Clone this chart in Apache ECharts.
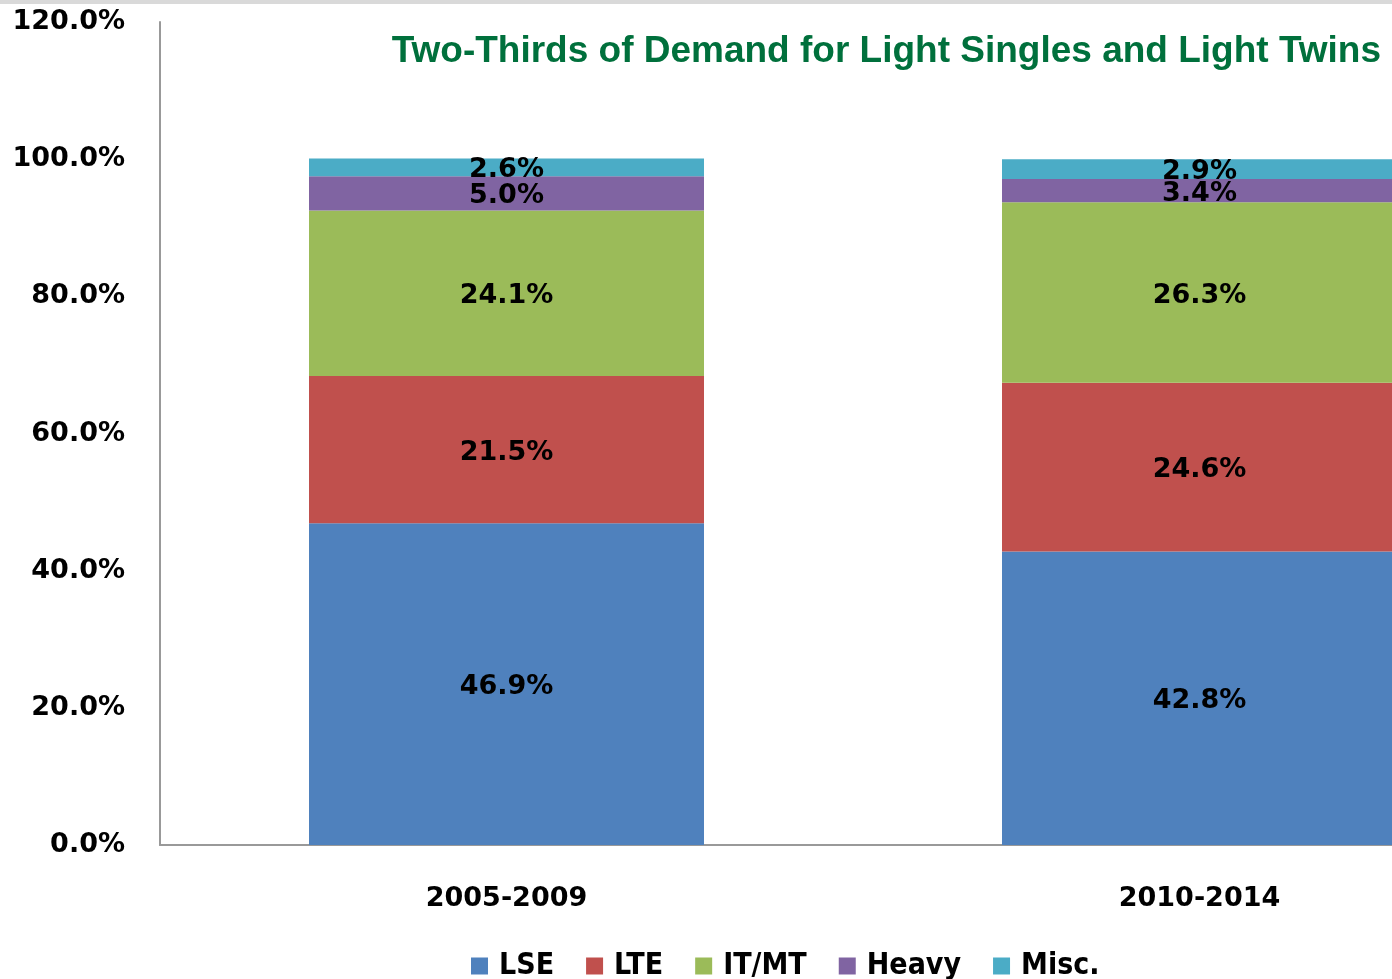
<!DOCTYPE html>
<html>
<head>
<meta charset="utf-8">
<script src="https://cdn.jsdelivr.net/npm/echarts@6/dist/echarts.min.js"></script>
<style>
  html, body { margin: 0; padding: 0; background: #fff; }
  #chart { width: 1392px; height: 979px; }
</style>
</head>
<body>
<div id="chart"></div>
<script>
const categories = ["2005-2009", "2010-2014"];
const seriesNames = ["LSE", "LTE", "IT/MT", "Heavy", "Misc."];
const lse = [46.9, 42.8];
const lte = [21.5, 24.6];
const itmt = [24.1, 26.3];
const heavy = [5.0, 3.4];
const misc = [2.6, 2.9];
const yTicks = [0, 20, 40, 60, 80, 100, 120];

const colors = ["#4F81BD", "#C0504D", "#9BBB59", "#8064A2", "#4BACC6"];
const values = [lse, lte, itmt, heavy, misc];

const chart = echarts.init(document.getElementById("chart"));

const series = seriesNames.map((name, i) => ({
  name,
  type: "bar",
  stack: "total",
  barWidth: 395,
  itemStyle: { color: colors[i] },
  label: {
    show: true,
    position: "inside",
    offset: [0, 3],
    formatter: (p) => p.value.toFixed(1) + "%",
    color: "#000",
    fontFamily: "DejaVu Sans",
    fontWeight: "bold",
    fontSize: 27
  },
  data: values[i]
}));

const option = {
  animation: false,
  title: {
    text: "Two-Thirds of Demand for Light Singles and Light Twins",
    right: 6,
    top: 28,
    textStyle: {
      color: "#00703C",
      fontFamily: "Liberation Sans",
      fontWeight: "bold",
      fontSize: 37
    }
  },
  graphic: [
    { type: "rect", left: 0, top: 0, shape: { width: 1392, height: 4 }, style: { fill: "#d9d9d9" } }
  ],
  legend: {
    left: 466,
    top: 946,
    itemWidth: 17,
    itemHeight: 17,
    itemGap: 32,
    icon: "rect",
    textStyle: {
      color: "#000",
      fontFamily: "'DejaVu Sans Condensed', 'Liberation Sans'",
      fontWeight: "bold",
      fontSize: 30,
      padding: [0, 0, 0, 6]
    },
    data: seriesNames
  },
  grid: {
    left: 160,
    top: 22,
    bottom: 134,
    width: 1386,
    outerBoundsMode: "none"
  },
  xAxis: {
    type: "category",
    data: categories,
    axisLine: { lineStyle: { color: "#999", width: 2 } },
    axisTick: { show: false },
    axisLabel: {
      color: "#000",
      margin: 40,
      fontFamily: "DejaVu Sans",
      fontWeight: "bold",
      fontSize: 27
    }
  },
  yAxis: {
    type: "value",
    min: yTicks[0],
    max: yTicks[yTicks.length - 1],
    interval: 20,
    splitLine: { show: false },
    axisLine: { show: true, lineStyle: { color: "#999", width: 2 } },
    axisTick: { show: false },
    axisLabel: {
      color: "#000",
      margin: 35,
      fontFamily: "DejaVu Sans",
      fontWeight: "bold",
      fontSize: 27,
      formatter: (v) => v.toFixed(1) + "%"
    }
  },
  series
};

chart.setOption(option);
</script>
</body>
</html>
